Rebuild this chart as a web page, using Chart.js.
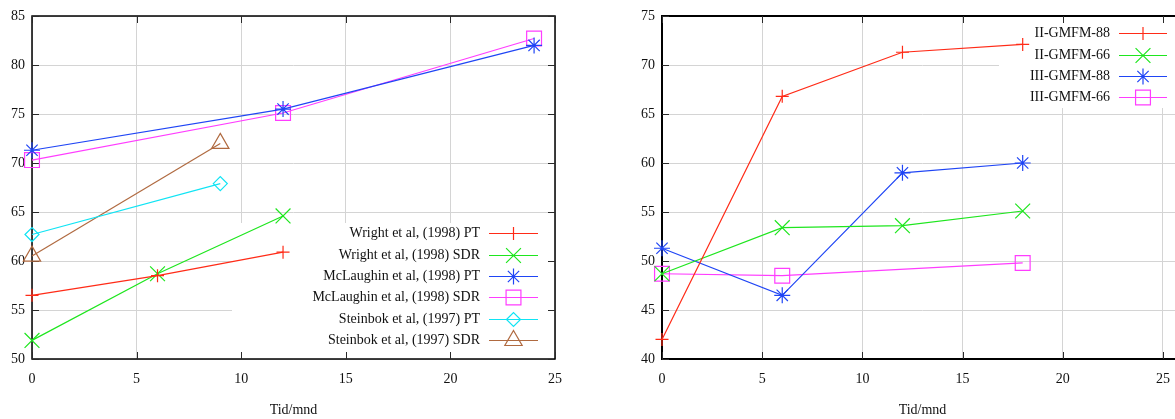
<!DOCTYPE html>
<html lang="no">
<head>
<meta charset="UTF-8">
<title>GMFM over tid</title>
<script src="https://cdn.jsdelivr.net/npm/chart.js@4.4.1/dist/chart.umd.min.js"></script>
<style>
  html, body { margin: 0; padding: 0; background: #fff; overflow: hidden; width: 1175px; height: 419px; }
  .wrap { position: absolute; top: 0; height: 419px; }
  #left { left: 0; width: 590px; }
  #right { left: 590px; width: 610px; }
</style>
</head>
<body>
<div class="wrap" id="left"><canvas id="chartLeft" width="590" height="419"></canvas></div>
<div class="wrap" id="right"><canvas id="chartRight" width="610" height="419"></canvas></div>

<script>
// --- left panel: published studies ---
const wrightMonths = [0, 6, 12];
const wrightPT = [56.5, 58.5, 60.9];
const wrightSDR = [51.9, 58.7, 64.6];
const mclaughinMonths = [0, 12, 24];
const mclaughinPT = [71.3, 75.5, 82.0];
const mclaughinSDR = [70.3, 75.1, 82.7];
const steinbokMonths = [0, 9];
const steinbokPT = [62.7, 67.9];
const steinbokSDR = [60.5, 72.0];

// --- right panel: GMFM groups ---
const gmfmMonths = [0, 6, 12, 18];
const ii88 = [42.0, 66.8, 71.3, 72.1];
const ii66 = [48.7, 53.4, 53.6, 55.1];
const iii88 = [51.3, 46.5, 59.0, 60.0];
const iii66Months = [0, 6, 18];
const iii66 = [48.7, 48.5, 49.8];

const xTickValues = [0, 5, 10, 15, 20, 25];
const xTitle = 'Tid/mnd';

const RED = '#ff2b17', GREEN = '#1ee61e', BLUE = '#1f45f5',
      MAGENTA = '#ff3dff', CYAN = '#10e4f4', BROWN = '#b06a40';

Chart.defaults.font.family = "'Liberation Serif', 'DejaVu Serif', serif";
Chart.defaults.font.size = 14;
Chart.defaults.color = '#111';

const pts = (xs, ys) => xs.map((x, i) => ({ x: x, y: ys[i] }));

function series(label, xs, ys, color, style, radius) {
  return {
    label: label,
    data: pts(xs, ys),
    showLine: true,
    borderColor: color,
    borderWidth: 1.2,
    backgroundColor: 'rgba(0,0,0,0)',
    pointStyle: style,
    pointRadius: radius,
    pointHoverRadius: radius,
    pointBorderColor: color,
    pointBackgroundColor: 'rgba(0,0,0,0)',
    pointBorderWidth: 1.2,
    clip: false
  };
}

function drawMarker(ctx, style, radius, x, y) {
  if (Chart.helpers && Chart.helpers.drawPoint) {
    Chart.helpers.drawPoint(ctx, { pointStyle: style, radius: radius, rotation: 0, borderWidth: 1.2 }, x, y);
  }
}

// gnuplot look: blanked key area, border with inward ticks, key at the side
const gpFrame = {
  id: 'gpFrame',
  beforeDatasetsDraw(chart, args, opts) {
    const { ctx, chartArea: a, scales: { x, y } } = chart;
    ctx.save();
    if (opts.box) {
      const b = opts.box;
      ctx.fillStyle = '#fff';
      ctx.fillRect(b[0], b[1], b[2] - b[0], b[3] - b[1]);
    }
    ctx.strokeStyle = '#000';
    ctx.lineWidth = opts.borderWidth;
    ctx.strokeRect(a.left, a.top, a.right - a.left, a.bottom - a.top);
    ctx.lineWidth = 1;
    ctx.strokeStyle = '#2a2a2a';
    ctx.beginPath();
    x.ticks.forEach(t => {
      const px = Math.round(x.getPixelForValue(t.value)) + 0.5;
      ctx.moveTo(px, a.bottom); ctx.lineTo(px, a.bottom - 7);
      ctx.moveTo(px, a.top); ctx.lineTo(px, a.top + 7);
    });
    y.ticks.forEach(t => {
      const py = Math.round(y.getPixelForValue(t.value)) + 0.5;
      ctx.moveTo(a.left, py); ctx.lineTo(a.left + 7, py);
      ctx.moveTo(a.right, py); ctx.lineTo(a.right - 7, py);
    });
    ctx.stroke();
    ctx.restore();
  },
  afterDatasetsDraw(chart, args, opts) {
    const k = opts.key;
    if (!k) return;
    const ctx = chart.ctx;
    ctx.save();
    ctx.font = "14px 'Liberation Serif', 'DejaVu Serif', serif";
    ctx.textAlign = 'right';
    ctx.textBaseline = 'middle';
    chart.data.datasets.forEach((ds, i) => {
      const yy = Math.round(k.top + i * k.step) + 0.5;
      ctx.fillStyle = '#111';
      ctx.fillText(ds.label, k.textRight, yy);
      ctx.strokeStyle = ds.borderColor;
      ctx.fillStyle = 'rgba(0,0,0,0)';
      ctx.lineWidth = 1.2;
      ctx.beginPath();
      ctx.moveTo(k.lineFrom, yy);
      ctx.lineTo(k.lineTo, yy);
      ctx.stroke();
      drawMarker(ctx, ds.pointStyle, ds.pointRadius, (k.lineFrom + k.lineTo) / 2, yy);
    });
    ctx.restore();
  }
};

function makeChart(id, datasets, cfg) {
  return new Chart(document.getElementById(id), {
    type: 'scatter',
    data: { datasets: datasets },
    plugins: [gpFrame],
    options: {
      responsive: false,
      animation: false,
      devicePixelRatio: 1,
      layout: { padding: { top: 16, left: 0, right: cfg.padRight, bottom: 0 } },
      plugins: {
        legend: { display: false },
        tooltip: { enabled: false },
        gpFrame: { box: cfg.box, key: cfg.key, borderWidth: cfg.borderWidth }
      },
      scales: {
        x: {
          type: 'linear',
          min: 0,
          max: cfg.xMax,
          afterBuildTicks: s => { s.ticks = xTickValues.map(v => ({ value: v })); },
          afterFit: s => { s.height = 60; },
          ticks: { padding: 12, maxRotation: 0, autoSkip: false },
          grid: { color: '#d4d4d4', lineWidth: 1, drawTicks: false },
          border: { display: false },
          title: { display: true, text: xTitle, padding: { top: 0, bottom: 0 } }
        },
        y: {
          min: cfg.yMin,
          max: cfg.yMin + 35,
          afterFit: s => { s.width = cfg.yWidth; },
          ticks: { stepSize: 5, padding: 7 },
          grid: { color: '#d4d4d4', lineWidth: 1, drawTicks: false },
          border: { display: false }
        }
      }
    }
  });
}

makeChart('chartLeft', [
  series('Wright et al, (1998) PT', wrightMonths, wrightPT, RED, 'cross', 6.5),
  series('Wright et al, (1998) SDR', wrightMonths, wrightSDR, GREEN, 'crossRot', 10.5),
  series('McLaughin et al, (1998) PT', mclaughinMonths, mclaughinPT, BLUE, 'star', 8),
  series('McLaughin et al, (1998) SDR', mclaughinMonths, mclaughinSDR, MAGENTA, 'rect', 10.5),
  series('Steinbok et al, (1997) PT', steinbokMonths, steinbokPT, CYAN, 'rectRot', 7),
  series('Steinbok et al, (1997) SDR', steinbokMonths, steinbokSDR, BROWN, 'triangle', 10)
], {
  xMax: 25, yMin: 50, yWidth: 32, padRight: 35, borderWidth: 1.5,
  box: [232, 223, 555, 359],
  key: { textRight: 480, lineFrom: 489, lineTo: 538, top: 233.3, step: 21.33 }
});

makeChart('chartRight', [
  series('II-GMFM-88', gmfmMonths, ii88, RED, 'cross', 6.5),
  series('II-GMFM-66', gmfmMonths, ii66, GREEN, 'crossRot', 10.5),
  series('III-GMFM-88', gmfmMonths, iii88, BLUE, 'star', 8),
  series('III-GMFM-66', iii66Months, iii66, MAGENTA, 'rect', 10.5)
], {
  xMax: 26, yMin: 40, yWidth: 72, padRight: 17, borderWidth: 2,
  box: [409, 16, 593, 108],
  key: { textRight: 520, lineFrom: 529, lineTo: 577, top: 33.3, step: 21.33 }
});
</script>
</body>
</html>
